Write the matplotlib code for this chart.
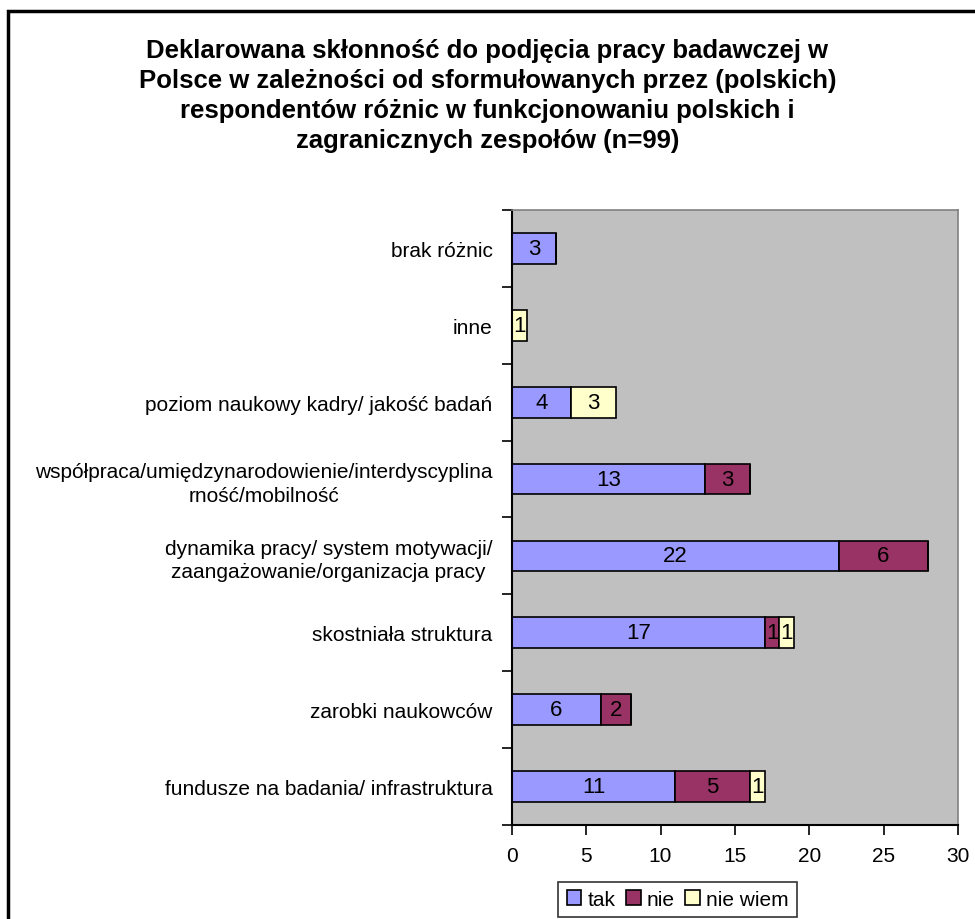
import numpy as np
import matplotlib.pyplot as plt
from matplotlib.patches import Rectangle

plt.rcParams['font.family'] = ['Liberation Sans', 'DejaVu Sans']

# Data (bottom to top)
categories = ['fundusze na badania/ infrastruktura',
              'zarobki naukowców',
              'skostniała struktura',
              'dynamika pracy/ system motywacji/\nzaangażowanie/organizacja pracy',
              'współpraca/umiędzynarodowienie/interdyscyplina\nrność/mobilność',
              'poziom naukowy kadry/ jakość badań',
              'inne',
              'brak różnic']
tak = [11, 6, 17, 22, 13, 4, 0, 3]
nie = [5, 2, 1, 6, 3, 0, 0, 0]
nie_wiem = [1, 0, 1, 0, 0, 3, 1, 0]

series = [('tak', tak, '#9999FF'), ('nie', nie, '#993366'), ('nie wiem', nie_wiem, '#FFFFCC')]

fig = plt.figure(figsize=(9.75, 9.2), dpi=100)
ax = fig.add_axes([0.525, 0.1022, 0.4574, 0.6685])
ax.set_facecolor('#C0C0C0')

y = np.arange(len(categories))
left = np.zeros(len(categories))
for name, vals, col in series:
    vals = np.array(vals, dtype=float)
    ax.barh(y, vals, left=left, height=0.4, color=col, edgecolor='black',
            linewidth=1.2, label=name)
    for i, v in enumerate(vals):
        if v > 0:
            ax.text(left[i] + v / 2, y[i], f'{int(v)}', ha='center', va='center', fontsize=16)
    left += vals

ax.set_xlim(0, 30)
ax.set_ylim(-0.5, len(categories) - 0.5)
ax.set_xticks(np.arange(0, 31, 5))
ax.set_yticks(np.arange(-0.5, len(categories), 1))
ax.set_yticklabels([])
ax.set_yticks(y, minor=True)
ax.set_yticklabels(categories, minor=True, fontsize=15, multialignment='center',
                   linespacing=1.3)
ax.tick_params(axis='y', which='minor', length=0, pad=14)
ax.tick_params(axis='y', which='major', length=7, width=1.2, direction='out')
ax.tick_params(axis='x', length=7, width=1.2, direction='out', labelsize=15, pad=8)

for s in ['top', 'right']:
    ax.spines[s].set_color('#808080')
    ax.spines[s].set_linewidth(1.2)
for s in ['left', 'bottom']:
    ax.spines[s].set_color('black')
    ax.spines[s].set_linewidth(1.5)

fig.text(0.5, 0.958, 'Deklarowana skłonność do podjęcia pracy badawczej w\n'
         'Polsce w zależności od sformułowanych przez (polskich)\n'
         'respondentów różnic w funkcjonowaniu polskich i\n'
         'zagranicznych zespołów (n=99)',
         ha='center', va='top', fontsize=18.5, fontweight='bold', linespacing=1.32)

leg = ax.legend(loc='upper center', bbox_to_anchor=(0.372, -0.092), ncol=3, frameon=True,
                fancybox=False, edgecolor='black', fontsize=15, handlelength=0.7,
                handleheight=0.7, handletextpad=0.3, columnspacing=0.5, borderpad=0.4,
                borderaxespad=0)
leg.get_frame().set_linewidth(1.2)

fig.patches.append(Rectangle((8 / 975, -0.1), 1.2, 1 - 12 / 920 + 0.1, transform=fig.transFigure,
                             fill=False, edgecolor='black', linewidth=2.5))

fig.savefig('out.png', dpi=100)
